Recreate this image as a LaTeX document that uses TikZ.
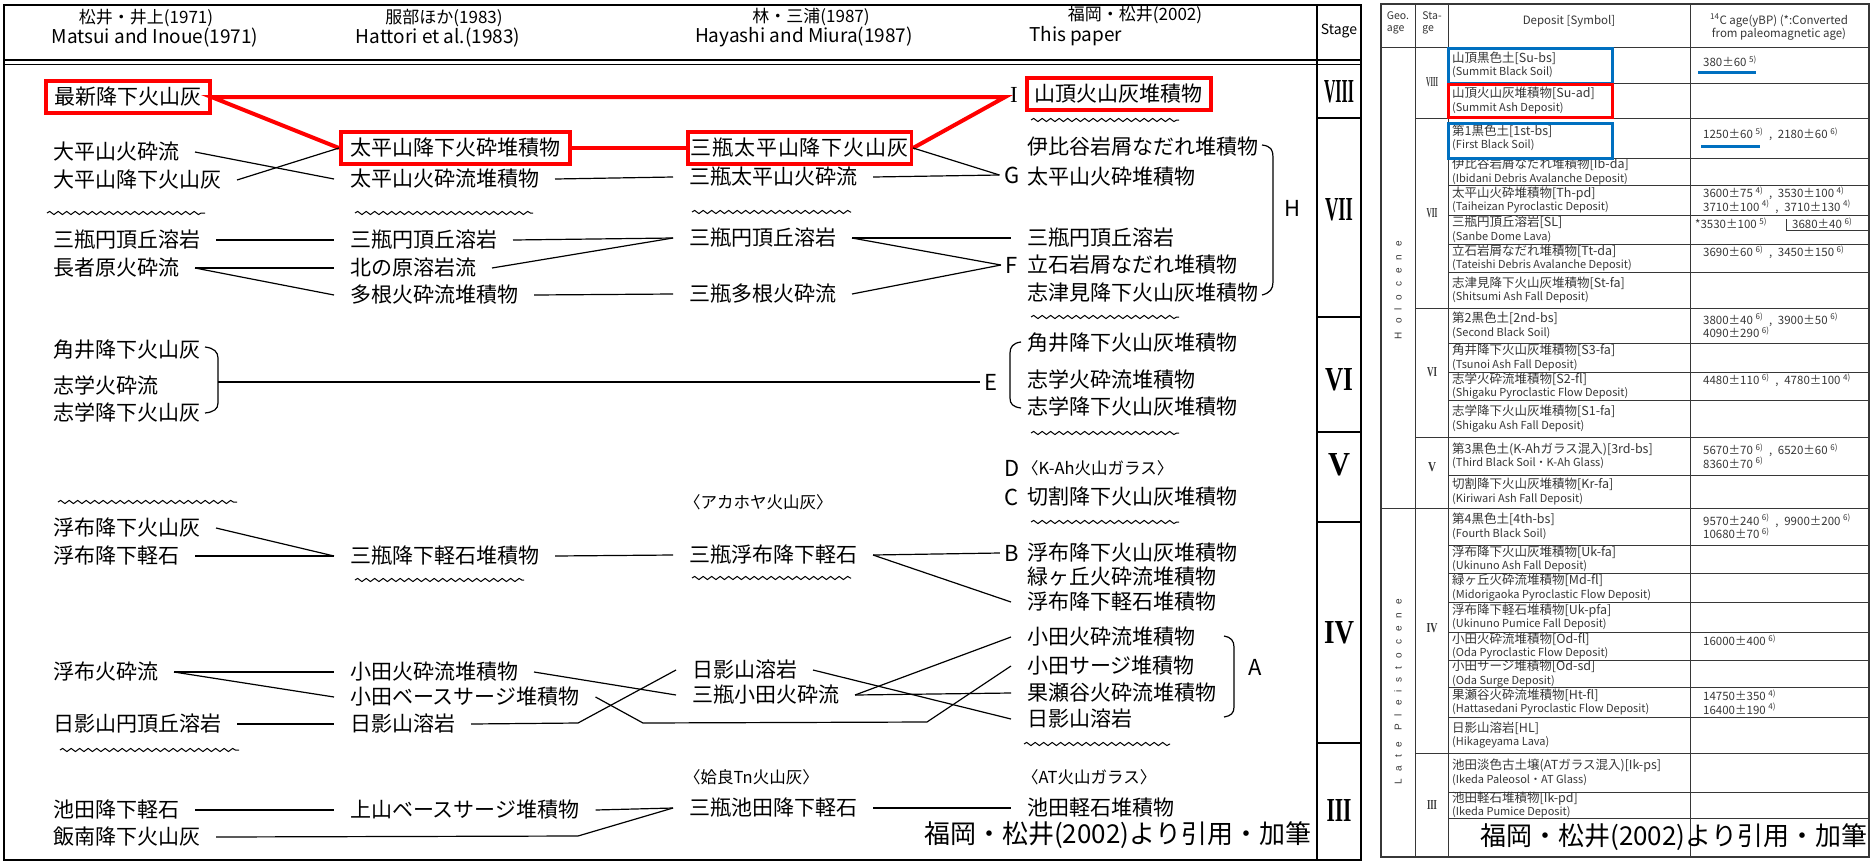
\documentclass[tikz,border=0pt]{standalone}
\usepackage{fontspec}
\usepackage{graphicx}
\setmainfont{Noto Sans CJK JP}
\newfontfamily\romanfont{Liberation Serif}
\newfontfamily\geofont[LetterSpace=80]{Liberation Sans}
\usepackage{tikz}
\usetikzlibrary{positioning, calc, decorations.pathmorphing}
\definecolor{boxred}{RGB}{255,0,0}
\definecolor{boxblue}{RGB}{0,112,192}
\definecolor{scan}{RGB}{55,55,55}
\newcommand{\depsize}{\fontsize{21}{25}\selectfont}
\newcommand{\hdsize}{\fontsize{17}{20}\selectfont}
\newcommand{\hdesize}{\fontsize{19}{22}\selectfont}
\newcommand{\notesize}{\fontsize{16.5}{20}\selectfont}
\newcommand{\capsize}{\fontsize{26}{30}\selectfont}
\newcommand{\tabsize}{\fontsize{12.5}{13.5}\selectfont}
\newcommand{\ensize}{\fontsize{11}{13.5}\selectfont}
\newcommand{\stagenum}[3]{\resizebox{#1}{#2}{\romanfont\bfseries #3}}

\begin{document}
\begin{tikzpicture}[x=1pt, y=-1pt,
  dep/.style={anchor=west, xshift=-16pt, inner sep=0pt, outer xsep=16pt, font=\depsize},
  note/.style={anchor=west, inner sep=0pt, font=\notesize},
  hd/.style={inner sep=0pt, font=\hdsize},
  hde/.style={inner sep=0pt, font=\hdesize},
  rbox/.style={draw=boxred, line width=3.5pt, anchor=west, inner xsep=8pt, inner ysep=0pt, minimum height=32pt, font=\depsize},
  lett/.style={inner sep=0pt, outer xsep=5pt, font=\fontsize{22}{24}\selectfont},
  link/.style={line width=1.2pt},
  redlink/.style={draw=boxred, line width=4pt},
  wave/.style={line width=1pt, decorate, decoration={snake, segment length=8.5pt, amplitude=1.6pt}},
  brk/.style={line width=1.2pt},
  stg/.style={inner sep=0pt},
  tblframe/.style={line width=2.5pt},
  tab/.style={anchor=west, inner sep=0pt, align=left, font=\tabsize, text=scan},
  age/.style={anchor=west, inner sep=0pt, align=left, font=\fontsize{11.5}{13.5}\selectfont, text=scan},
  rule/.style={draw=scan, line width=1pt}
]
\fill[white] (0,0) rectangle (1872,863);
\useasboundingbox (0,0) rectangle (1872,863);

% left table frame
\draw[tblframe] (4,5) rectangle (1361,860);
\draw[line width=1.6pt] (4,60) -- (1361,60);
\draw[line width=1pt] (4,64) -- (1361,64);
\draw[line width=2pt] (1317,5) -- (1317,860);
\draw[link] (1317,118) -- (1361,118) (1317,317) -- (1361,317) (1317,432) -- (1361,432)
  (1317,522) -- (1361,522) (1317,743) -- (1361,743);

% headers
\node[hd] (hd1j) at (146,18) {松井・井上(1971)};
\node[hde] (hd1e) at (155,38) {Matsui and Inoue(1971)};
\node[hd] (hd2j) at (444,18) {服部ほか(1983)};
\node[hde] (hd2e) at (438,38) {Hattori et al.(1983)};
\node[hd] (hd3j) at (811,17) {林・三浦(1987)};
\node[hde] (hd3e) at (804,37) {Hayashi and Miura(1987)};
\node[hd] (hd4j) at (1135,15) {福岡・松井(2002)};
\node[hde, anchor=west] (hd4e) at (1029,36) {This paper};
\node[hd, font=\fontsize{14}{16}\selectfont] (hdst) at (1339,31) {Stage};

% stages
\node[stg] (s8) at (1339,92) {\stagenum{30pt}{22pt}{VIII}};
\node[stg] (s7) at (1339,210) {\stagenum{28pt}{22pt}{VII}};
\node[stg] (s6) at (1339,380) {\stagenum{28pt}{22pt}{VI}};
\node[stg] (s5) at (1339,465) {\stagenum{22pt}{22pt}{V}};
\node[stg] (s4) at (1339,633) {\stagenum{30pt}{22pt}{IV}};
\node[stg] (s3) at (1339,810) {\stagenum{25pt}{22pt}{III}};

% Matsui and Inoue
\node[rbox, minimum width=164pt] (m1) at (44,97) {最新降下火山灰};
\node[dep] (m2) at (53,152) {大平山火砕流};
\node[dep] (m3) at (53,180) {大平山降下火山灰};
\node[dep] (m4) at (53,240) {三瓶円頂丘溶岩};
\node[dep] (m5) at (53,268) {長者原火砕流};
\node[dep] (m6) at (53,350) {角井降下火山灰};
\node[dep] (m7) at (53,385) {志学火砕流};
\node[dep] (m8) at (53,412) {志学降下火山灰};
\node[dep] (m9) at (53,528) {浮布降下火山灰};
\node[dep] (m10) at (53,556) {浮布降下軽石};
\node[dep] (m11) at (53,672) {浮布火砕流};
\node[dep] (m12) at (53,724) {日影山円頂丘溶岩};
\node[dep] (m13) at (53,810) {池田降下軽石};
\node[dep] (m14) at (53,837) {飯南降下火山灰};

% Hattori et al.
\node[rbox, minimum width=229pt] (h1) at (339,148) {太平山降下火砕堆積物};
\node[dep] (h2) at (350,179) {太平山火砕流堆積物};
\node[dep] (h3) at (350,240) {三瓶円頂丘溶岩};
\node[dep] (h4) at (350,268) {北の原溶岩流};
\node[dep] (h5) at (350,295) {多根火砕流堆積物};
\node[dep] (h6) at (350,556) {三瓶降下軽石堆積物};
\node[dep] (h7) at (350,672) {小田火砕流堆積物};
\node[dep] (h8) at (350,697) {小田ベースサージ堆積物};
\node[dep] (h9) at (350,724) {日影山溶岩};
\node[dep] (h10) at (350,810) {上山ベースサージ堆積物};

% Hayashi and Miura
\node[rbox, minimum width=216pt, inner xsep=3pt] (y1) at (686,148) {\addfontfeature{LetterSpace=4}三瓶太平山降下火山灰};
\node[dep] (y2) at (689,177) {三瓶太平山火砕流};
\node[dep] (y3) at (689,238) {三瓶円頂丘溶岩};
\node[dep] (y4) at (689,294) {三瓶多根火砕流};
\node[note] (y5) at (684,502) {〈アカホヤ火山灰〉};
\node[dep] (y6) at (689,555) {三瓶浮布降下軽石};
\node[dep] (y7) at (692,670) {日影山溶岩};
\node[dep] (y8) at (692,695) {三瓶小田火砕流};
\node[note] (y9) at (684,777) {〈姶良Tn火山灰〉};
\node[dep] (y10) at (689,808) {三瓶池田降下軽石};

% This paper
\node[rbox, minimum width=179pt] (f1) at (1025,94) {山頂火山灰堆積物};
\node[lett, font=\fontsize{23}{24}\selectfont\romanfont] (I) at (1014,95) {I};
\node[dep] (f2) at (1027,147) {伊比谷岩屑なだれ堆積物};
\node[lett] (G) at (1012,175) {G};
\node[dep] (f3) at (1027,177) {太平山火砕堆積物};
\node[dep] (f4) at (1027,238) {三瓶円頂丘溶岩};
\node[lett] (F) at (1012,265) {F};
\node[dep] (f5) at (1027,265) {立石岩屑なだれ堆積物};
\node[dep] (f6) at (1027,293) {志津見降下火山灰堆積物};
\node[lett] (H) at (1292,208) {H};
\node[lett] (E) at (991,382) {E};
\node[dep] (f7) at (1027,343) {角井降下火山灰堆積物};
\node[dep] (f8) at (1027,380) {志学火砕流堆積物};
\node[dep] (f9) at (1027,407) {志学降下火山灰堆積物};
\node[lett] (D) at (1012,468) {D};
\node[note] (f10) at (1022,468) {〈K-Ah火山ガラス〉};
\node[lett] (C) at (1012,497) {C};
\node[dep] (f11) at (1027,497) {切割降下火山灰堆積物};
\node[lett] (B) at (1012,553) {B};
\node[dep] (f12) at (1027,553) {浮布降下火山灰堆積物};
\node[dep] (f13) at (1027,577) {緑ヶ丘火砕流堆積物};
\node[dep] (f14) at (1027,602) {浮布降下軽石堆積物};
\node[dep] (f15) at (1027,637) {小田火砕流堆積物};
\node[dep] (f16) at (1027,666) {小田サージ堆積物};
\node[dep] (f17) at (1027,693) {果瀬谷火砕流堆積物};
\node[dep] (f18) at (1027,719) {日影山溶岩};
\node[lett] (A) at (1255,667) {A};
\node[note] (f19) at (1022,777) {〈AT火山ガラス〉};
\node[dep] (f20) at (1027,808) {池田軽石堆積物};
\node[anchor=west, inner sep=0pt, font=\capsize] (cap1) at (924,835) {福岡・松井(2002)より引用・加筆};

% unconformities
\draw[wave] (47,213) -- (205,213);
\draw[wave] (355,213) -- (533,213);
\draw[wave] (692,212) -- (851,212);
\draw[wave] (1031,120) -- (1179,120);
\draw[wave] (1031,317) -- (1179,317);
\draw[wave] (1031,433) -- (1179,433);
\draw[wave] (1031,522) -- (1179,522);
\draw[wave] (58,502) -- (237,502);
\draw[wave] (355,580) -- (524,580);
\draw[wave] (692,578) -- (851,578);
\draw[wave] (60,750) -- (239,750);
\draw[wave] (1024,744) -- (1170,744);

% brackets
\draw[brk] (1262,145) .. controls (1271,146) and (1273,150) .. (1273,157) -- (1273,282) .. controls (1273,289) and (1270,293) .. (1262,295);
\draw[brk] (205,347) .. controls (214,348) and (218,352) .. (218,358) -- (218,403) .. controls (218,409) and (214,412) .. (205,413);
\draw[brk] (1021,342) .. controls (1013,343) and (1010,347) .. (1010,353) -- (1010,398) .. controls (1010,404) and (1013,407) .. (1021,408);
\draw[brk] (1224,636) .. controls (1231,637) and (1234,641) .. (1234,647) -- (1234,707) .. controls (1234,713) and (1231,716) .. (1224,717);
\coordinate (mbr) at (218,382);
\coordinate (hkb) at (578,723);
\coordinate (odb1) at (643,723);
\coordinate (odb2) at (927,722);
\coordinate (iib) at (578,836);

% correlations
\draw[redlink] (h1.west) -- (m1.east) -- (m1.east -| I.west) -- (y1.east);
\draw[redlink] (h1.east) -- (y1.west);
\draw[link] (m2.east) -- (h2.west);
\draw[link] (m3.east) -- (h1.west);
\draw[link] (h2.east) -- (y2.west);
\draw[link] (y1.east) -- (G.west);
\draw[link] (y2.east) -- (G.west);
\draw[link] (m4.east) -- (h3.west);
\draw[link] (m5.east) -- (h4.west);
\draw[link] (m5.east) -- (h5.west);
\draw[link] (h3.east) -- (y3.west);
\draw[link] (h4.east) -- (y3.west);
\draw[link] (h5.east) -- (y4.west);
\draw[link] (y3.east) -- (f4.west);
\draw[link] (y3.east) -- (F.west);
\draw[link] (y4.east) -- (F.west);
\draw[link] (mbr) -- (E.west);
\draw[link] (m9.east) -- (h6.west);
\draw[link] (m10.east) -- (h6.west);
\draw[link] (h6.east) -- (y6.west);
\draw[link] (y6.east) -- (B.west);
\draw[link] (y6.east) -- (f14.west);
\draw[link] (m11.east) -- (h7.west);
\draw[link] (m11.east) -- (h8.west);
\draw[link] (m12.east) -- (h9.west);
\draw[link] (h7.east) -- (y8.west);
\draw[link] (h8.east) -- (odb1) -- (odb2) -- (f16.west);
\draw[link] (h9.east) -- (hkb) -- (y7.west);
\draw[link] (y7.east) -- (f18.west);
\draw[link] (y8.east) -- (f15.west);
\draw[link] (y8.east) -- (f17.west);
\draw[link] (m13.east) -- (h10.west);
\draw[link] (h10.east) -- (y10.west);
\draw[link] (m14.east) -- (iib) -- (y10.west);
\draw[link] (y10.east) -- (f20.west);

% right table
\draw[rule, line width=1.6pt] (1381,4) rectangle (1869,857);
\draw[rule] (1415,4) -- (1415,857) (1448,4) -- (1448,857) (1690,4) -- (1690,857);
\draw[rule] (1381,47) -- (1869,47) (1381,508) -- (1869,508);
\draw[rule] (1415,118) -- (1869,118) (1415,308) -- (1869,308) (1415,437) -- (1869,437) (1415,753) -- (1869,753);
\draw[rule] (1448,83) -- (1869,83) (1448,158) -- (1869,158) (1448,185) -- (1869,185)
  (1448,215) -- (1869,215) (1448,244) -- (1869,244) (1448,272) -- (1869,272)
  (1448,343) -- (1869,343) (1448,372) -- (1869,372) (1448,400) -- (1869,400)
  (1448,475) -- (1869,475) (1448,545) -- (1869,545) (1448,573) -- (1869,573)
  (1448,602) -- (1869,602) (1448,632) -- (1869,632) (1448,660) -- (1869,660)
  (1448,687) -- (1869,687) (1448,717) -- (1869,717) (1448,792) -- (1869,792)
  (1448,818) -- (1869,818);
\draw[rule] (1786,219) -- (1786,230) -- (1869,230);

\node[tab, anchor=center, font=\fontsize{10.5}{11.5}\selectfont] (rh1) at (1398,23) {Geo.\\age};
\node[tab, anchor=center, font=\fontsize{10.5}{11.5}\selectfont] (rh2) at (1432,23) {Sta-\\ge};
\node[tab, anchor=center, font=\fontsize{11.5}{13}\selectfont] (rh3) at (1569,21) {Deposit [Symbol]};
\node[tab, anchor=center, align=center, font=\fontsize{11.5}{13}\selectfont] (rh4) at (1779,27) {\textsuperscript{14}C age(yBP) (*:Converted\\ from paleomagnetic age)};

\node[rotate=90, inner sep=0pt, text=scan, font={\geofont\fontsize{10}{12}\selectfont}] (holo) at (1398,290) {Holocene};
\node[rotate=90, inner sep=0pt, text=scan, font={\geofont\fontsize{10}{12}\selectfont}] (plei) at (1398,692) {Late Pleistocene};

\node[stg, text=scan] (rs8) at (1432,82) {\stagenum{12pt}{9pt}{VIII}};
\node[stg, text=scan] (rs7) at (1432,213) {\stagenum{11pt}{9pt}{VII}};
\node[stg, text=scan] (rs6) at (1432,372) {\stagenum{10pt}{9pt}{VI}};
\node[stg, text=scan] (rs5) at (1432,467) {\stagenum{8pt}{9pt}{V}};
\node[stg, text=scan] (rs4) at (1432,628) {\stagenum{11pt}{9pt}{IV}};
\node[stg, text=scan] (rs3) at (1432,805) {\stagenum{10pt}{9pt}{III}};

\node[tab] (t1) at (1452,65) {山頂黒色土[Su-bs]\\{\ensize (Summit Black Soil)}};
\node[tab] (t2) at (1452,100.5) {山頂火山灰堆積物[Su-ad]\\{\ensize (Summit Ash Deposit)}};
\node[tab] (t3) at (1452,138) {第1黒色土[1st-bs]\\{\ensize (First Black Soil)}};
\node[tab] (t4) at (1452,171.5) {伊比谷岩屑なだれ堆積物[Ib-da]\\{\ensize (Ibidani Debris Avalanche Deposit)}};
\node[tab] (t5) at (1452,200) {太平山火砕堆積物[Th-pd]\\{\ensize (Taiheizan Pyroclastic Deposit)}};
\node[tab] (t6) at (1452,229.5) {三瓶円頂丘溶岩[SL]\\{\ensize (Sanbe Dome Lava)}};
\node[tab] (t7) at (1452,258) {立石岩屑なだれ堆積物[Tt-da]\\{\ensize (Tateishi Debris Avalanche Deposit)}};
\node[tab] (t8) at (1452,290) {志津見降下火山灰堆積物[St-fa]\\{\ensize (Shitsumi Ash Fall Deposit)}};
\node[tab] (t9) at (1452,325.5) {第2黒色土[2nd-bs]\\{\ensize (Second Black Soil)}};
\node[tab] (t10) at (1452,357.5) {角井降下火山灰堆積物[S3-fa]\\{\ensize (Tsunoi Ash Fall Deposit)}};
\node[tab] (t11) at (1452,386) {志学火砕流堆積物[S2-fl]\\{\ensize (Shigaku Pyroclastic Flow Deposit)}};
\node[tab] (t12) at (1452,418.5) {志学降下火山灰堆積物[S1-fa]\\{\ensize (Shigaku Ash Fall Deposit)}};
\node[tab] (t13) at (1452,456) {第3黒色土(K-Ahガラス混入)[3rd-bs]\\{\ensize (Third Black Soil・K-Ah Glass)}};
\node[tab] (t14) at (1452,491.5) {切割降下火山灰堆積物[Kr-fa]\\{\ensize (Kiriwari Ash Fall Deposit)}};
\node[tab] (t15) at (1452,526.5) {第4黒色土[4th-bs]\\{\ensize (Fourth Black Soil)}};
\node[tab] (t16) at (1452,559) {浮布降下火山灰堆積物[Uk-fa]\\{\ensize (Ukinuno Ash Fall Deposit)}};
\node[tab] (t17) at (1452,587.5) {緑ヶ丘火砕流堆積物[Md-fl]\\{\ensize (Midorigaoka Pyroclastic Flow Deposit)}};
\node[tab] (t18) at (1452,617) {浮布降下軽石堆積物[Uk-pfa]\\{\ensize (Ukinuno Pumice Fall Deposit)}};
\node[tab] (t19) at (1452,646) {小田火砕流堆積物[Od-fl]\\{\ensize (Oda Pyroclastic Flow Deposit)}};
\node[tab] (t20) at (1452,673.5) {小田サージ堆積物[Od-sd]\\{\ensize (Oda Surge Deposit)}};
\node[tab] (t21) at (1452,702) {果瀬谷火砕流堆積物[Ht-fl]\\{\ensize (Hattasedani Pyroclastic Flow Deposit)}};
\node[tab] (t22) at (1452,735) {日影山溶岩[HL]\\{\ensize (Hikageyama Lava)}};
\node[tab] (t23) at (1452,772.5) {池田淡色古土壌(ATガラス混入)[Ik-ps]\\{\ensize (Ikeda Paleosol・AT Glass)}};
\node[tab] (t24) at (1452,805) {池田軽石堆積物[Ik-pd]\\{\ensize (Ikeda Pumice Deposit)}};

\node[age] (a1) at (1703,61) {380±60 \textsuperscript{5)}};
\node[age] (a3) at (1703,134) {1250±60 \textsuperscript{5)}\enspace,\enspace 2180±60 \textsuperscript{6)}};
\node[age] (a5) at (1703,200) {3600±75 \textsuperscript{4)}\enspace,\enspace 3530±100 \textsuperscript{4)}\\3710±100 \textsuperscript{4)}\enspace,\enspace 3710±130 \textsuperscript{4)}};
\node[age] (a6) at (1695,223) {*3530±100 \textsuperscript{5)}};
\node[age] (a6b) at (1792,223) {3680±40 \textsuperscript{6)}};
\node[age] (a7) at (1703,252) {3690±60 \textsuperscript{6)}\enspace,\enspace 3450±150 \textsuperscript{6)}};
\node[age] (a9) at (1703,325.5) {3800±40 \textsuperscript{6)}\enspace,\enspace 3900±50 \textsuperscript{6)}\\4090±290 \textsuperscript{6)}};
\node[age] (a11) at (1703,380) {4480±110 \textsuperscript{6)}\enspace,\enspace 4780±100 \textsuperscript{4)}};
\node[age] (a13) at (1703,456) {5670±70 \textsuperscript{6)}\enspace,\enspace 6520±60 \textsuperscript{6)}\\8360±70 \textsuperscript{6)}};
\node[age] (a15) at (1703,526.5) {9570±240 \textsuperscript{6)}\enspace,\enspace 9900±200 \textsuperscript{6)}\\10680±70 \textsuperscript{6)}};
\node[age] (a19) at (1703,640) {16000±400 \textsuperscript{6)}};
\node[age] (a21) at (1703,702) {14750±350 \textsuperscript{4)}\\16400±190 \textsuperscript{4)}};

% highlights
\draw[boxblue, line width=3pt] (1448,48) rectangle (1612,83);
\draw[boxred, line width=3pt] (1448,84) rectangle (1612,117);
\draw[boxblue, line width=3pt] (1448,123) rectangle (1612,158);
\draw[boxblue, line width=3pt] (1698,72) -- (1756,72);
\draw[boxblue, line width=3pt] (1701,146) -- (1760,146);
\node[anchor=west, inner sep=0pt, font=\capsize] (cap2) at (1480,837) {福岡・松井(2002)より引用・加筆};
\end{tikzpicture}
\end{document}
